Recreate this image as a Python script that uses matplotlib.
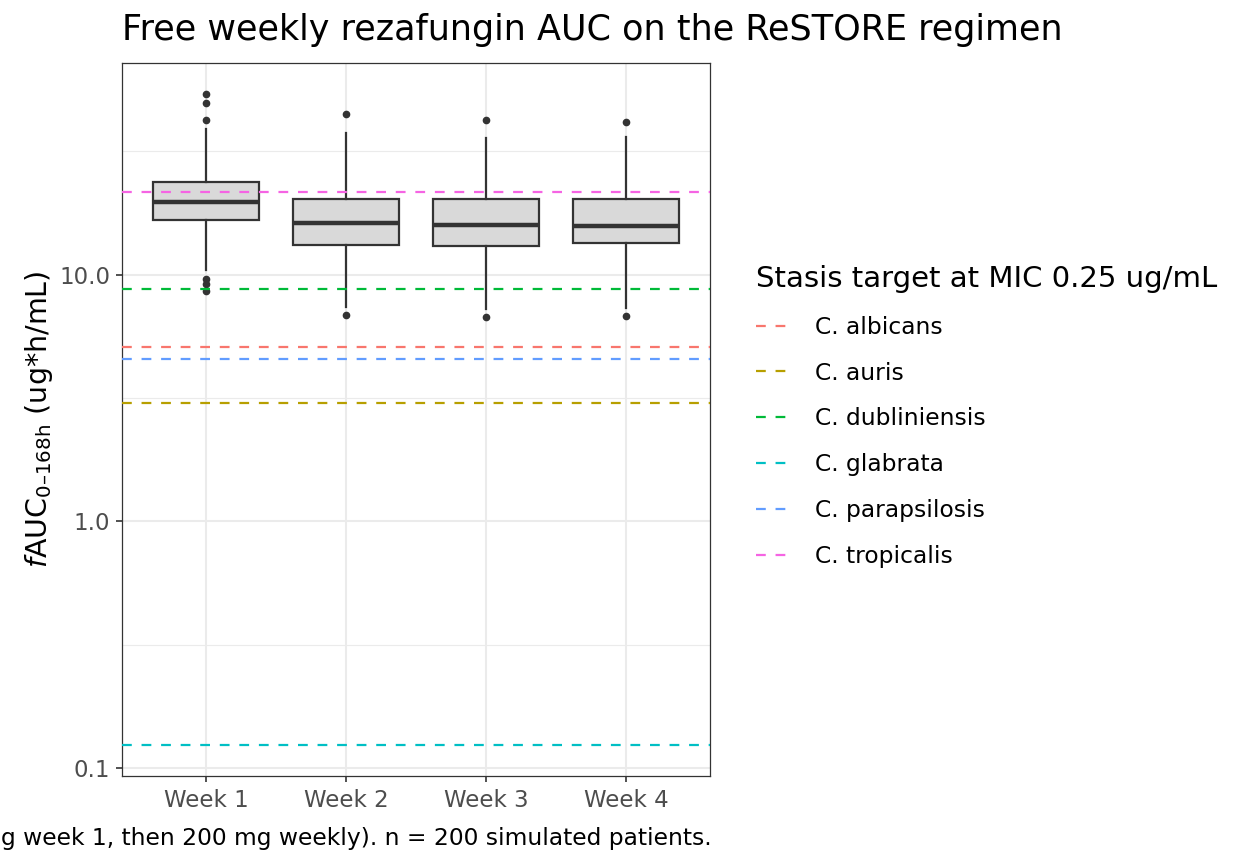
import numpy as np
import matplotlib
matplotlib.use('Agg')
import matplotlib.pyplot as plt
from matplotlib.ticker import FixedLocator, NullFormatter

plt.rcParams['font.family'] = ['DejaVu Sans']
plt.rcParams['mathtext.fontset'] = 'dejavusans'

# stasis targets (fAUC, ug*h/mL) at MIC 0.25
species = ['C. albicans', 'C. auris', 'C. dubliniensis', 'C. glabrata',
           'C. parapsilosis', 'C. tropicalis']
targets = [5.1, 3.03, 8.78, 0.124, 4.56, 21.7]
colors = ['#F8766D', '#B79F00', '#00BA38', '#00BFC4', '#619CFF', '#F564E3']

# box summaries
weeks = ['Week 1', 'Week 2', 'Week 3', 'Week 4']
whislo = [10.4, 7.39, 7.28, 7.35]
q1 = [16.7, 13.2, 13.1, 13.4]
med = [19.7, 16.2, 15.85, 15.76]
q3 = [23.8, 20.2, 20.2, 20.2]
whishi = [39.0, 37.6, 35.9, 36.2]
fliers = [[53.9, 49.7, 42.3, 9.63, 9.19, 8.59],
          [44.6, 6.84],
          [42.3, 6.71],
          [41.5, 6.8]]

caption = ('Simulated free rezafungin exposure, ReSTORE regimen (400 mg week 1, '
           'then 200 mg weekly). n = 200 simulated patients.')

fig = plt.figure(figsize=(12.48, 8.64), dpi=100)
ax = fig.add_axes([0.0978, 0.102, 0.4712, 0.825])

ax.set_yscale('log')
ax.set_ylim(0.093, 72)
ax.set_xlim(0.4, 4.6)

ax.yaxis.set_major_locator(FixedLocator([0.1, 1.0, 10.0]))
ax.yaxis.set_minor_locator(FixedLocator([10 ** -0.5, 10 ** 0.5, 10 ** 1.5]))
ax.yaxis.set_minor_formatter(NullFormatter())
ax.set_yticklabels(['0.1', '1.0', '10.0'])

ax.grid(True, which='major', color='#EBEBEB', lw=1.5, zorder=0)
ax.grid(True, which='minor', axis='y', color='#EBEBEB', lw=0.8, zorder=0)
ax.set_axisbelow(True)

stats = []
for i in range(len(weeks)):
    stats.append(dict(label=weeks[i], whislo=whislo[i], q1=q1[i], med=med[i],
                      q3=q3[i], whishi=whishi[i], fliers=fliers[i]))

ax.bxp(stats, positions=[1, 2, 3, 4], widths=0.76, patch_artist=True,
       showcaps=False,
       boxprops=dict(facecolor='#D9D9D9', edgecolor='#333333', lw=1.6),
       medianprops=dict(color='#333333', lw=3.2),
       whiskerprops=dict(color='#333333', lw=1.6),
       flierprops=dict(marker='o', markerfacecolor='#333333',
                       markeredgecolor='#333333', markersize=4.5),
       zorder=2)

for sp, t, c in zip(species, targets, colors):
    ax.axhline(t, color=c, lw=1.6, ls=(0, (4.4, 4.4)), label=sp, zorder=3)

ax.set_xticks([1, 2, 3, 4])
ax.set_xticklabels(weeks)
ax.tick_params(axis='both', which='major', labelsize=16.5, colors='#333333',
               labelcolor='#4D4D4D', length=4.5, width=1.2, pad=4)
ax.tick_params(axis='x', which='major', pad=5)
ax.tick_params(axis='y', which='minor', length=0)
for s in ax.spines.values():
    s.set_color('#333333')
    s.set_linewidth(0.9)

ax.set_ylabel('$\\mathit{f}$AUC$_{\\mathrm{0\u2013168h}}$ (ug*h/mL)', fontsize=20.5, labelpad=3)
fig.text(0.0978, 0.965, 'Free weekly rezafungin AUC on the ReSTORE regimen',
         fontsize=25.2, ha='left', va='center')
fig.text(0.570, 0.030, caption, fontsize=16.8, ha='right', va='center')

leg = ax.legend(loc='center left', bbox_to_anchor=(0.5962, 0.518),
                bbox_transform=fig.transFigure, frameon=False, borderpad=0,
                title='Stasis target at MIC 0.25 ug/mL', title_fontsize=21,
                fontsize=16.8, handlelength=1.55, handletextpad=1.0,
                labelspacing=0.98)
leg._legend_box.align = 'left'

fig.savefig('out.png', dpi=100)
